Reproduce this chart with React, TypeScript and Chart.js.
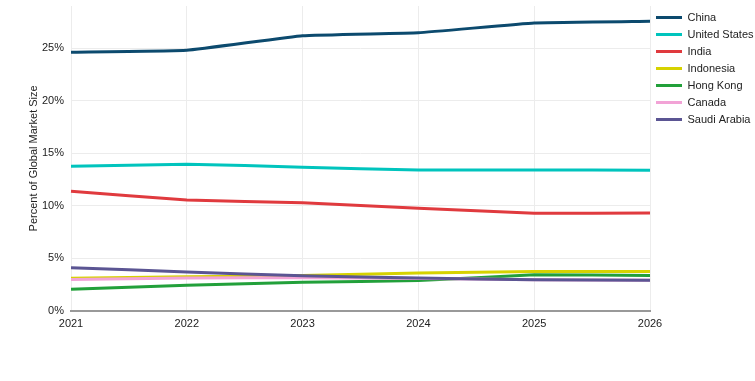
import React, { useEffect, useRef } from "react";
import { Chart, registerables } from "chart.js";

Chart.register(...registerables);

const years = ["2021", "2022", "2023", "2024", "2025", "2026"];
const seriesNames = ["China", "United States", "India", "Indonesia", "Hong Kong", "Canada", "Saudi Arabia"];
const china = [24.6, 24.78, 26.17, 26.46, 27.38, 27.54];
const unitedStates = [13.75, 13.95, 13.66, 13.4, 13.4, 13.37];
const india = [11.38, 10.55, 10.27, 9.76, 9.28, 9.3];
const indonesia = [3.1, 3.25, 3.35, 3.6, 3.73, 3.73];
const hongKong = [2.06, 2.44, 2.72, 2.88, 3.42, 3.36];
const canada = [2.98, 3.12, 3.15, 3.08, 2.95, 2.9];
const saudiArabia = [4.1, 3.7, 3.33, 3.12, 2.95, 2.9];
const seriesColors = ["#0c4a6e", "#00c4bd", "#e03a3e", "#d6d200", "#22a03a", "#f2a3d6", "#5b5593"];
const yTicks = [0, 5, 10, 15, 20, 25];

const FONT = "'Liberation Sans', Arial, Helvetica, sans-serif";

export default function App() {
  const ref = useRef<HTMLCanvasElement | null>(null);
  useEffect(() => {
    if (!ref.current) return;
    const values = [china, unitedStates, india, indonesia, hongKong, canada, saudiArabia];
    const chart = new Chart(ref.current, {
      type: "line",
      data: {
        labels: years,
        datasets: values.map((v, i) => ({
          label: seriesNames[i],
          data: v,
          borderColor: seriesColors[i],
          backgroundColor: seriesColors[i],
          borderWidth: 3,
          pointRadius: 0,
          pointHoverRadius: 0,
          tension: 0.1,
          fill: false,
          order: values.length - i,
        })),
      },
      options: {
        animation: false,
        responsive: true,
        maintainAspectRatio: false,
        layout: { padding: { top: 6, left: 23, right: 0, bottom: 43 } },
        plugins: {
          tooltip: { enabled: false },
          legend: {
            position: "right",
            align: "start",
            reverse: true,
            maxWidth: 105,
            labels: {
              boxWidth: 26,
              boxHeight: 0,
              padding: 6,
              color: "#222",
              font: { family: FONT, size: 11 },
            },
          },
        },
        scales: {
          x: {
            offset: false,
            grid: { color: "#ececec", lineWidth: 1, drawTicks: false },
            border: { display: true, color: "#999", width: 2 },
            ticks: { color: "#222", padding: 7, font: { family: FONT, size: 11 }, maxRotation: 0 },
          },
          y: {
            min: 0,
            max: 29,
            afterBuildTicks: (axis: any) => {
              axis.ticks = yTicks.map((v) => ({ value: v }));
            },
            afterFit: (axis: any) => {
              axis.width = 48;
              axis.paddingTop = 0;
            },
            grid: { color: "#ececec", lineWidth: 1, drawTicks: false },
            border: { display: false },
            ticks: {
              color: "#222",
              padding: 7,
              font: { family: FONT, size: 11 },
              callback: (v: any) => v + "%",
            },
            title: {
              display: true,
              text: "Percent of Global Market Size",
              color: "#222",
              font: { family: FONT, size: 11 },
              padding: { top: 4, bottom: 0 },
            },
          },
        },
      },
    });
    return () => chart.destroy();
  }, []);
  return (
    <div style={{ position: "absolute", left: 0, top: 0, width: 755, height: 381 }}>
      <canvas ref={ref} />
    </div>
  );
}
